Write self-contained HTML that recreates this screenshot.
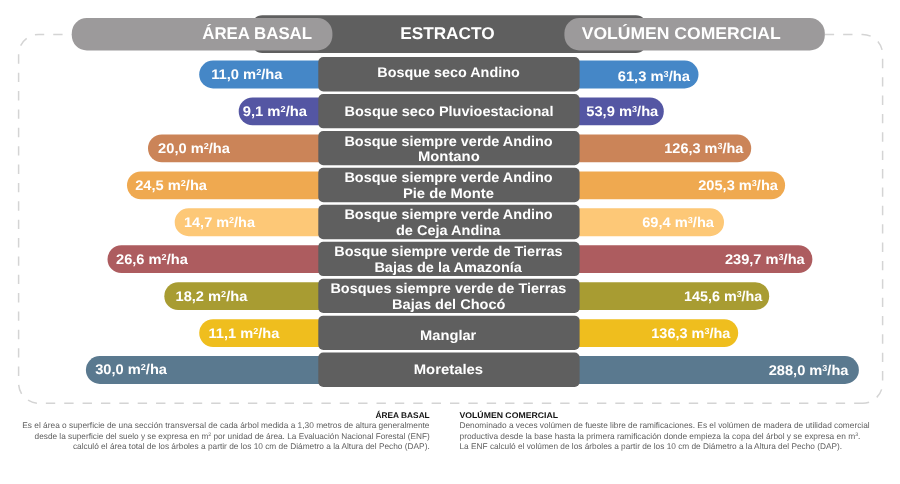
<!DOCTYPE html>
<html lang="es"><head><meta charset="utf-8"><title>Área basal y volúmen comercial por estrato</title>
<style>html,body{margin:0;padding:0;background:#fff}svg{display:block;will-change:transform}text{font-family:"Liberation Sans", sans-serif;text-rendering:geometricPrecision}.b{font-weight:700;fill:#fff}.f{fill:#5e5e5e}.fh{font-weight:700;fill:#111}</style></head><body>
<svg width="900" height="484" viewBox="0 0 900 484">
<rect width="900" height="484" fill="#fff"/>
<path d="M862.6 403.25H38.6A20 20 0 0 1 18.6 383.25V54.4A20 20 0 0 1 38.6 34.4H862.6A20 20 0 0 1 882.6 54.4V383.25A20 20 0 0 1 862.6 403.25Z" fill="none" stroke="#d4d4d4" stroke-width="1.5" stroke-dasharray="9.37 9" stroke-dashoffset="0.9"/>
<rect x="251.3" y="15.25" width="395.6" height="37.7" rx="11" fill="#5f5f5f"/>
<rect x="71.8" y="18" width="260.6" height="32.4" rx="15" fill="#9c9a9b"/>
<rect x="564.4" y="18" width="260.4" height="32.4" rx="15" fill="#9c9a9b"/>
<path fill="#4587c7" d="M324.30 60.60H213.10a13.90 13.90 0 0 0 0 27.80H324.30z"/>
<path fill="#4587c7" d="M573.60 60.60H684.60a13.90 13.90 0 0 1 0 27.80H573.60z"/>
<rect x="318.30" y="57.05" width="261.30" height="34.35" rx="5" fill="#5f5f5f"/>
<path fill="#5456a3" d="M324.30 97.54H252.60a13.90 13.90 0 0 0 0 27.80H324.30z"/>
<path fill="#5456a3" d="M573.60 97.54H649.90a13.90 13.90 0 0 1 0 27.80H573.60z"/>
<rect x="318.30" y="93.99" width="261.30" height="34.35" rx="5" fill="#5f5f5f"/>
<path fill="#cb8458" d="M324.30 134.48H161.90a13.90 13.90 0 0 0 0 27.80H324.30z"/>
<path fill="#cb8458" d="M573.60 134.48H737.30a13.90 13.90 0 0 1 0 27.80H573.60z"/>
<rect x="318.30" y="130.93" width="261.30" height="34.35" rx="5" fill="#5f5f5f"/>
<path fill="#efa950" d="M324.30 171.42H140.90a13.90 13.90 0 0 0 0 27.80H324.30z"/>
<path fill="#efa950" d="M573.60 171.42H771.20a13.90 13.90 0 0 1 0 27.80H573.60z"/>
<rect x="318.30" y="167.87" width="261.30" height="34.35" rx="5" fill="#5f5f5f"/>
<path fill="#fdc877" d="M324.30 208.36H188.60a13.90 13.90 0 0 0 0 27.80H324.30z"/>
<path fill="#fdc877" d="M573.60 208.36H710.10a13.90 13.90 0 0 1 0 27.80H573.60z"/>
<rect x="318.30" y="204.81" width="261.30" height="34.35" rx="5" fill="#5f5f5f"/>
<path fill="#ad5c5f" d="M324.30 245.30H121.40a13.90 13.90 0 0 0 0 27.80H324.30z"/>
<path fill="#ad5c5f" d="M573.60 245.30H798.50a13.90 13.90 0 0 1 0 27.80H573.60z"/>
<rect x="318.30" y="241.75" width="261.30" height="34.35" rx="5" fill="#5f5f5f"/>
<path fill="#a89c32" d="M324.30 282.24H178.20a13.90 13.90 0 0 0 0 27.80H324.30z"/>
<path fill="#a89c32" d="M573.60 282.24H755.30a13.90 13.90 0 0 1 0 27.80H573.60z"/>
<rect x="318.30" y="278.69" width="261.30" height="34.35" rx="5" fill="#5f5f5f"/>
<path fill="#efbe1e" d="M324.30 319.18H213.10a13.90 13.90 0 0 0 0 27.80H324.30z"/>
<path fill="#efbe1e" d="M573.60 319.18H724.30a13.90 13.90 0 0 1 0 27.80H573.60z"/>
<rect x="318.30" y="315.63" width="261.30" height="34.35" rx="5" fill="#5f5f5f"/>
<path fill="#5a798f" d="M324.30 356.12H99.80a13.90 13.90 0 0 0 0 27.80H324.30z"/>
<path fill="#5a798f" d="M573.60 356.12H845.00a13.90 13.90 0 0 1 0 27.80H573.60z"/>
<rect x="318.30" y="352.57" width="261.30" height="34.35" rx="5" fill="#5f5f5f"/>
<text class="b" transform="translate(202.30 39.00) scale(0.9904 1)" font-size="17.0">ÁREA BASAL</text>
<text class="b" transform="translate(400.19 39.00) scale(1.0123 1)" font-size="17.0">ESTRACTO</text>
<text class="b" transform="translate(581.70 39.00) scale(1.0324 1)" font-size="17.0">VOLÚMEN COMERCIAL</text>
<text class="b" transform="translate(211.20 79.00) scale(1.0503 1)" font-size="14.0">11,0 m<tspan font-size="8.68" dy="-4.00">2</tspan><tspan dy="4.00">/ha</tspan></text>
<text class="b" transform="translate(242.70 116.00) scale(1.0563 1)" font-size="14.0">9,1 m<tspan font-size="8.68" dy="-4.00">2</tspan><tspan dy="4.00">/ha</tspan></text>
<text class="b" transform="translate(158.10 153.00) scale(1.0457 1)" font-size="14.0">20,0 m<tspan font-size="8.68" dy="-4.00">2</tspan><tspan dy="4.00">/ha</tspan></text>
<text class="b" transform="translate(135.20 190.00) scale(1.0457 1)" font-size="14.0">24,5 m<tspan font-size="8.68" dy="-4.00">2</tspan><tspan dy="4.00">/ha</tspan></text>
<text class="b" transform="translate(184.00 227.00) scale(1.0341 1)" font-size="14.0">14,7 m<tspan font-size="8.68" dy="-4.00">2</tspan><tspan dy="4.00">/ha</tspan></text>
<text class="b" transform="translate(116.00 264.00) scale(1.0457 1)" font-size="14.0">26,6 m<tspan font-size="8.68" dy="-4.00">2</tspan><tspan dy="4.00">/ha</tspan></text>
<text class="b" transform="translate(175.50 301.00) scale(1.0457 1)" font-size="14.0">18,2 m<tspan font-size="8.68" dy="-4.00">2</tspan><tspan dy="4.00">/ha</tspan></text>
<text class="b" transform="translate(208.50 338.00) scale(1.0429 1)" font-size="14.0">11,1 m<tspan font-size="8.68" dy="-4.00">2</tspan><tspan dy="4.00">/ha</tspan></text>
<text class="b" transform="translate(95.20 374.00) scale(1.0457 1)" font-size="14.0">30,0 m<tspan font-size="8.68" dy="-4.00">2</tspan><tspan dy="4.00">/ha</tspan></text>
<text class="b" transform="translate(617.70 81.00) scale(1.0530 1)" font-size="14.0">61,3 m<tspan font-size="8.68" dy="-4.00">3</tspan><tspan dy="4.00">/ha</tspan></text>
<text class="b" transform="translate(586.20 116.00) scale(1.0501 1)" font-size="14.0">53,9 m<tspan font-size="8.68" dy="-4.00">3</tspan><tspan dy="4.00">/ha</tspan></text>
<text class="b" transform="translate(664.30 153.00) scale(1.0335 1)" font-size="14.0">126,3 m<tspan font-size="8.68" dy="-4.00">3</tspan><tspan dy="4.00">/ha</tspan></text>
<text class="b" transform="translate(698.20 190.00) scale(1.0439 1)" font-size="14.0">205,3 m<tspan font-size="8.68" dy="-4.00">3</tspan><tspan dy="4.00">/ha</tspan></text>
<text class="b" transform="translate(642.20 227.00) scale(1.0457 1)" font-size="14.0">69,4 m<tspan font-size="8.68" dy="-4.00">3</tspan><tspan dy="4.00">/ha</tspan></text>
<text class="b" transform="translate(724.90 264.00) scale(1.0439 1)" font-size="14.0">239,7 m<tspan font-size="8.68" dy="-4.00">3</tspan><tspan dy="4.00">/ha</tspan></text>
<text class="b" transform="translate(684.10 301.00) scale(1.0230 1)" font-size="14.0">145,6 m<tspan font-size="8.68" dy="-4.00">3</tspan><tspan dy="4.00">/ha</tspan></text>
<text class="b" transform="translate(651.30 338.00) scale(1.0335 1)" font-size="14.0">136,3 m<tspan font-size="8.68" dy="-4.00">3</tspan><tspan dy="4.00">/ha</tspan></text>
<text class="b" transform="translate(768.70 375.00) scale(1.0439 1)" font-size="14.0">288,0 m<tspan font-size="8.68" dy="-4.00">3</tspan><tspan dy="4.00">/ha</tspan></text>
<text class="b" transform="translate(377.30 77.00) scale(1.0268 1)" font-size="14.0">Bosque seco Andino</text>
<text class="b" transform="translate(344.50 116.00) scale(1.0368 1)" font-size="14.0">Bosque seco Pluvioestacional</text>
<text class="b" transform="translate(344.40 146.00) scale(1.0321 1)" font-size="14.0">Bosque siempre verde Andino</text>
<text class="b" transform="translate(417.90 161.00) scale(1.0595 1)" font-size="14.0">Montano</text>
<text class="b" transform="translate(344.40 182.00) scale(1.0321 1)" font-size="14.0">Bosque siempre verde Andino</text>
<text class="b" transform="translate(402.90 198.00) scale(1.0536 1)" font-size="14.0">Pie de Monte</text>
<text class="b" transform="translate(344.40 219.00) scale(1.0321 1)" font-size="14.0">Bosque siempre verde Andino</text>
<text class="b" transform="translate(396.00 235.00) scale(1.0361 1)" font-size="14.0">de Ceja Andina</text>
<text class="b" transform="translate(334.25 256.00) scale(1.0342 1)" font-size="14.0">Bosque siempre verde de Tierras</text>
<text class="b" transform="translate(374.40 272.00) scale(1.0336 1)" font-size="14.0">Bajas de la Amazonía</text>
<text class="b" transform="translate(330.40 293.00) scale(1.0326 1)" font-size="14.0">Bosques siempre verde de Tierras</text>
<text class="b" transform="translate(392.10 309.00) scale(1.0409 1)" font-size="14.0">Bajas del Chocó</text>
<text class="b" transform="translate(420.10 340.00) scale(1.0474 1)" font-size="14.0">Manglar</text>
<text class="b" transform="translate(413.70 374.00) scale(1.0614 1)" font-size="14.0">Moretales</text>
<text class="fh" transform="translate(375.60 417.60) scale(1.0135 1)" font-size="8.2">ÁREA BASAL</text>
<text class="f" transform="translate(22.30 428.20) scale(1.0033 1)" font-size="8.3">Es el área o superficie de una sección transversal de cada árbol medida a 1,30 metros de altura generalmente</text>
<text class="f" transform="translate(34.60 438.60) scale(0.9936 1)" font-size="8.3">desde la superficie del suelo y se expresa en m<tspan font-size="5.15" dy="-2.40">2</tspan><tspan dy="2.40"> por unidad de área. La Evaluación Nacional Forestal (ENF)</tspan></text>
<text class="f" transform="translate(72.90 449.00) scale(1.0023 1)" font-size="8.3">calculó el área total de los árboles a partir de los 10 cm de Diámetro a la Altura del Pecho (DAP).</text>
<text class="fh" transform="translate(459.50 417.60) scale(1.0616 1)" font-size="8.2">VOLÚMEN COMERCIAL</text>
<text class="f" transform="translate(459.50 428.20) scale(1.0015 1)" font-size="8.3">Denominado a veces volúmen de fueste libre de ramificaciones. Es el volúmen de madera de utilidad comercial</text>
<text class="f" transform="translate(459.50 438.60) scale(1.0068 1)" font-size="8.3">productiva desde la base hasta la primera ramificación donde empieza la copa del árbol y se expresa en m<tspan font-size="5.15" dy="-2.40">3</tspan><tspan dy="2.40">.</tspan></text>
<text class="f" transform="translate(459.50 449.00) scale(0.9982 1)" font-size="8.3">La ENF calculó el volúmen de los árboles a partir de los 10 cm de Diámetro a la Altura del Pecho (DAP).</text>
</svg></body></html>
